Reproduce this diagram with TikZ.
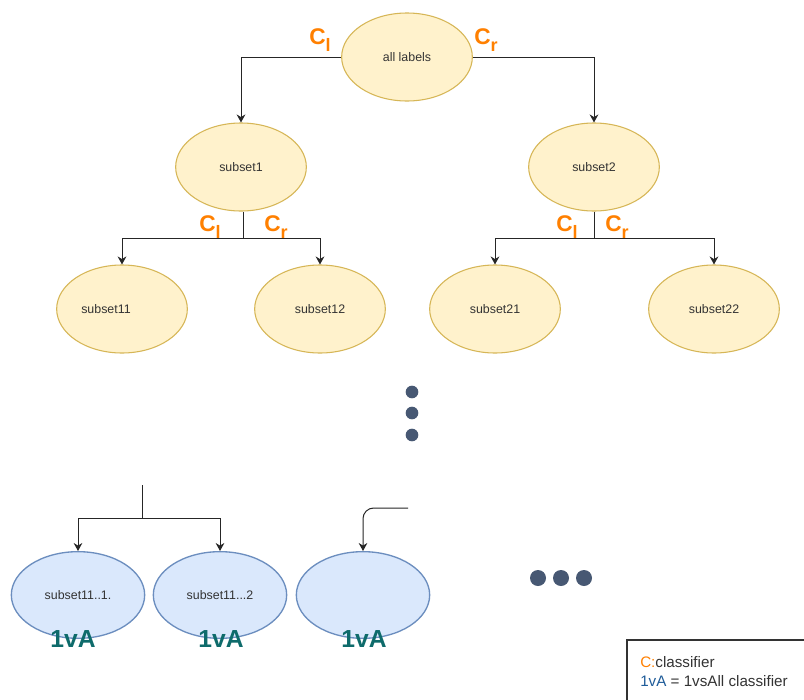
\documentclass[tikz,border=0pt]{standalone}
\usepackage{fontspec}
\setmainfont{Liberation Sans}
\usetikzlibrary{shapes.geometric,arrows.meta}
\definecolor{yfill}{HTML}{FFF2CC}
\definecolor{ydraw}{HTML}{D6B656}
\definecolor{bfill}{HTML}{DAE8FC}
\definecolor{bdraw}{HTML}{6C8EBF}
\definecolor{clsorange}{HTML}{FF8000}
\definecolor{ovateal}{HTML}{0E6B6B}
\definecolor{legblue}{HTML}{1F5C99}
\definecolor{dotgrey}{HTML}{475873}
\definecolor{txtgrey}{HTML}{333333}

\newcommand{\clsl}{C\raisebox{-0.3em}{\fontsize{13.5}{13.5}\selectfont l}}
\newcommand{\clsr}{C\raisebox{-0.3em}{\fontsize{13.5}{13.5}\selectfont r}}

\begin{document}
\begin{tikzpicture}[x=0.75pt,y=-0.75pt,
  yset/.style={ellipse,draw=ydraw,fill=yfill,line width=0.8pt,
    minimum width=98pt,minimum height=66pt,inner sep=0pt,
    text=txtgrey,font=\fontsize{9.3}{10}\selectfont},
  bset/.style={ellipse,draw=bdraw,fill=bfill,line width=1pt,
    minimum width=100pt,minimum height=65pt,inner sep=0pt,
    text=txtgrey,font=\fontsize{9.3}{10}\selectfont},
  link/.style={draw=black!85,line width=0.75pt,-{Stealth[length=6pt,width=6.5pt]}},
  plain/.style={draw=black!85,line width=0.75pt},
  clslabel/.style={text=clsorange,font=\fontsize{17}{17}\selectfont\bfseries,inner sep=0pt},
  ovalabel/.style={text=ovateal,font=\fontsize{18.5}{18.5}\selectfont\bfseries,inner sep=0pt},
  dot/.style={circle,fill=dotgrey,inner sep=0pt},
  legtext/.style={anchor=west,inner sep=0pt,text=txtgrey,font=\fontsize{11.4}{12}\selectfont}]

\clip (0,0) rectangle (804,700);
\fill[white] (0,0) rectangle (804,700);

% root and first split
\node[yset] (all) at (407,57) {all labels};
\node[yset] (s1) at (241,167) {subset1};
\node[yset] (s2) at (594,167) {subset2};
\draw[link] (all.west) -| (s1.north);
\draw[link] (all.east) -| (s2.north);
\node[clslabel] (cl0) at (320,40) {\clsl};
\node[clslabel] (cr0) at (486,40) {\clsr};

% second level
\node[yset] (s11) at (122,309) {\hspace*{-24pt}subset11};
\node[yset] (s12) at (320,309) {subset12};
\node[yset] (s21) at (495,309) {subset21};
\node[yset] (s22) at (714,309) {subset22};

\coordinate (b1) at (243,238);
\coordinate (b2) at (594,238);
\draw[plain] (s1.south -| b1) -- (b1);
\draw[link] (b1) -| (s11.north);
\draw[link] (b1) -| (s12.north);
\draw[plain] (s2.south) -- (b2);
\draw[link] (b2) -| (s21.north);
\draw[link] (b2) -| (s22.north);
\node[clslabel] (cl1) at (210,227) {\clsl};
\node[clslabel] (cr1) at (276,227) {\clsr};
\node[clslabel] (cl2) at (567,227) {\clsl};
\node[clslabel] (cr2) at (617,227) {\clsr};

% vertical ellipsis
\node[dot,minimum size=9.5pt] (v1) at (412,392) {};
\node[dot,minimum size=9.5pt] (v2) at (412,413) {};
\node[dot,minimum size=9.5pt] (v3) at (412,435) {};

% leaves with one-vs-all classifiers
\node[bset] (e1) at (78,595) {subset11..1.};
\node[bset] (e2) at (220,595) {subset11...2};
\node[bset] (e3) at (363,595) {};

\coordinate (t3) at (142,485);
\coordinate (b3) at (142,518);
\draw[plain] (t3) -- (b3);
\draw[link] (b3) -| (e1.north);
\draw[link] (b3) -| (e2.north);
\coordinate (f3) at (408,508);
\draw[link,rounded corners=8pt] (f3) -| (e3.north);

\node[ovalabel] (o1) at (73,639) {1vA};
\node[ovalabel] (o2) at (221,639) {1vA};
\node[ovalabel] (o3) at (364,639) {1vA};

% horizontal ellipsis
\node[dot,minimum size=12pt] (h1) at (538,578) {};
\node[dot,minimum size=12pt] (h2) at (561,578) {};
\node[dot,minimum size=12pt] (h3) at (584,578) {};

% legend
\draw[draw=txtgrey,line width=0.8pt] (627,640) rectangle (830,730);
\node[legtext] (leg1) at (640,662) {{\color{clsorange}C:}classifier};
\node[legtext] (leg2) at (640,681) {{\color{legblue}1vA} = 1vsAll classifier};

\end{tikzpicture}
\end{document}
